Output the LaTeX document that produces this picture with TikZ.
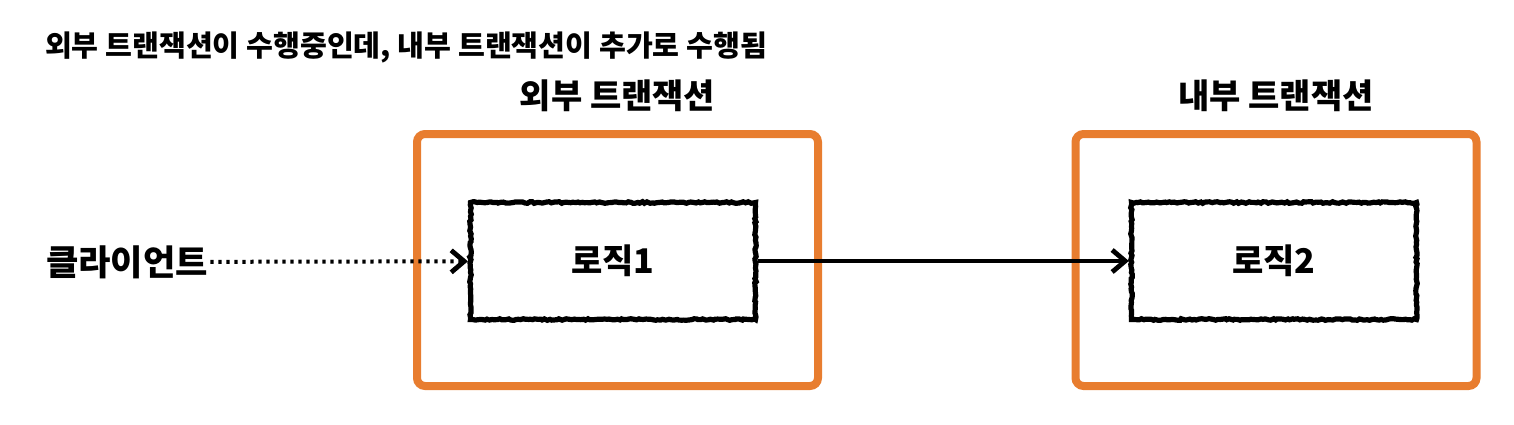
\documentclass[tikz,border=0pt]{standalone}
\usepackage{fontspec}
\usepackage{xcolor}
\usepackage{tikz}
\usetikzlibrary{positioning, arrows.meta, decorations.pathmorphing}
\newfontfamily\kr{Noto Sans CJK KR}
\definecolor{txorange}{HTML}{E87D2F}

\begin{document}
\begin{tikzpicture}[x=0.5pt, y=-0.5pt, every node/.style={font=\kr}]
        % Define block styles
        \tikzstyle{txbox} = [rectangle, draw=txorange, line width=4pt, rounded corners=4pt,
                             minimum width=200.5pt, minimum height=126pt, inner sep=0pt]
        \tikzstyle{logic} = [rectangle, draw, line width=2.6pt, minimum width=142.5pt,
                             minimum height=58.5pt, font=\kr\bfseries\fontsize{17}{20}\selectfont,
                             decorate, decoration={random steps, segment length=1.2pt, amplitude=0.4pt}]
        \tikzstyle{txlabel} = [font=\kr\bfseries\fontsize{17}{20}\selectfont, inner sep=0pt]
        \tikzstyle{arrow} = [line width=2pt, -{Straight Barb[length=6.5pt, width=11pt, line width=2.4pt]}]

        \useasboundingbox (0,0) rectangle (1514,424);

        % Title
        \node (title) [anchor=west, font=\kr\bfseries\fontsize{14.6}{17}\selectfont] at (38,47)
              {외부 트랜잭션이 수행중인데, 내부 트랜잭션이 추가로 수행됨};

        % Transactions
        \node (outertx) [txbox] at (617.5,260) {};
        \node (innertx) [txbox] at (1276,260) {};
        \node (outerlabel) [txlabel, above=9pt of outertx] {외부 트랜잭션};
        \node (innerlabel) [txlabel, above=9pt of innertx] {내부 트랜잭션};

        % Logic blocks
        \node (logic1) [logic] at (613,261) {로직1};
        \node (logic2) [logic] at (1274,261) {로직2};

        % Client
        \node (client) [font=\kr\bfseries\fontsize{17.6}{20}\selectfont, inner sep=1pt] at (127,262) {클라이언트};

        % Arrows
        \draw [arrow, dash pattern=on 1.6pt off 2.4pt] (client) -- (logic1);
        \draw [arrow] (logic1) -- (logic2);
    \end{tikzpicture}
\end{document}
